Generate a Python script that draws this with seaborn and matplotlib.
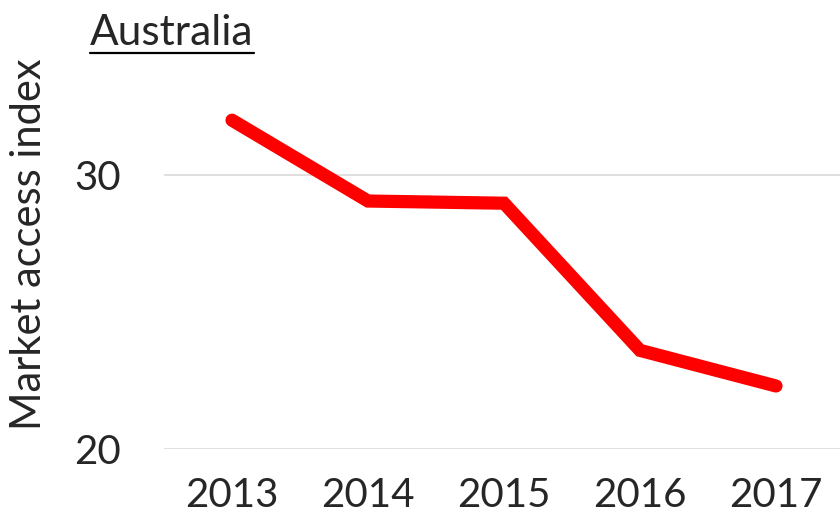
import matplotlib
matplotlib.use("Agg")
import matplotlib.pyplot as plt
import seaborn as sns
import pandas as pd
from matplotlib.lines import Line2D

years = ["2013", "2014", "2015", "2016", "2017"]
market_access = [32.0, 29.05, 28.97, 23.6, 22.3]
y_ticks = [20, 30]

sns.set_style("white")
plt.rcParams["font.family"] = ["Lato", "DejaVu Sans"]

df = pd.DataFrame({"year": years, "index": market_access})

fig = plt.figure(figsize=(8.4, 5.14), dpi=100)
ax = fig.add_axes([164 / 840, 65 / 514, 680 / 840, 411 / 514])

sns.lineplot(data=df, x="year", y="index", ax=ax, color="#ff0000",
             linewidth=9.5, solid_capstyle="round", solid_joinstyle="miter")

ax.set_xlim(-0.5, 4.5)
ax.set_ylim(20, 35)
ax.set_yticks(y_ticks)
ax.grid(axis="y", color="#d9d9d9", linewidth=1.2)
ax.set_axisbelow(True)
for s in ax.spines.values():
    s.set_visible(False)
ax.tick_params(axis="both", length=0, labelsize=29)
ax.tick_params(axis="y", pad=31)
ax.tick_params(axis="x", pad=20)
ax.set_xlabel("")
ax.set_ylabel("")

fig.text(29 / 840, 1 - 244 / 514, "Market access index", rotation=90,
         fontsize=30, ha="center", va="center")

title = fig.text(90 / 840, 1 - 45 / 514, "Australia", fontsize=30.5,
                 ha="left", va="baseline")
fig.canvas.draw()
bb = title.get_window_extent().transformed(fig.transFigure.inverted())
uy = 1 - 53 / 514
fig.add_artist(Line2D([bb.x0, bb.x1], [uy, uy], transform=fig.transFigure,
                      color="black", linewidth=1.6))

fig.savefig("out.png", dpi=100)
